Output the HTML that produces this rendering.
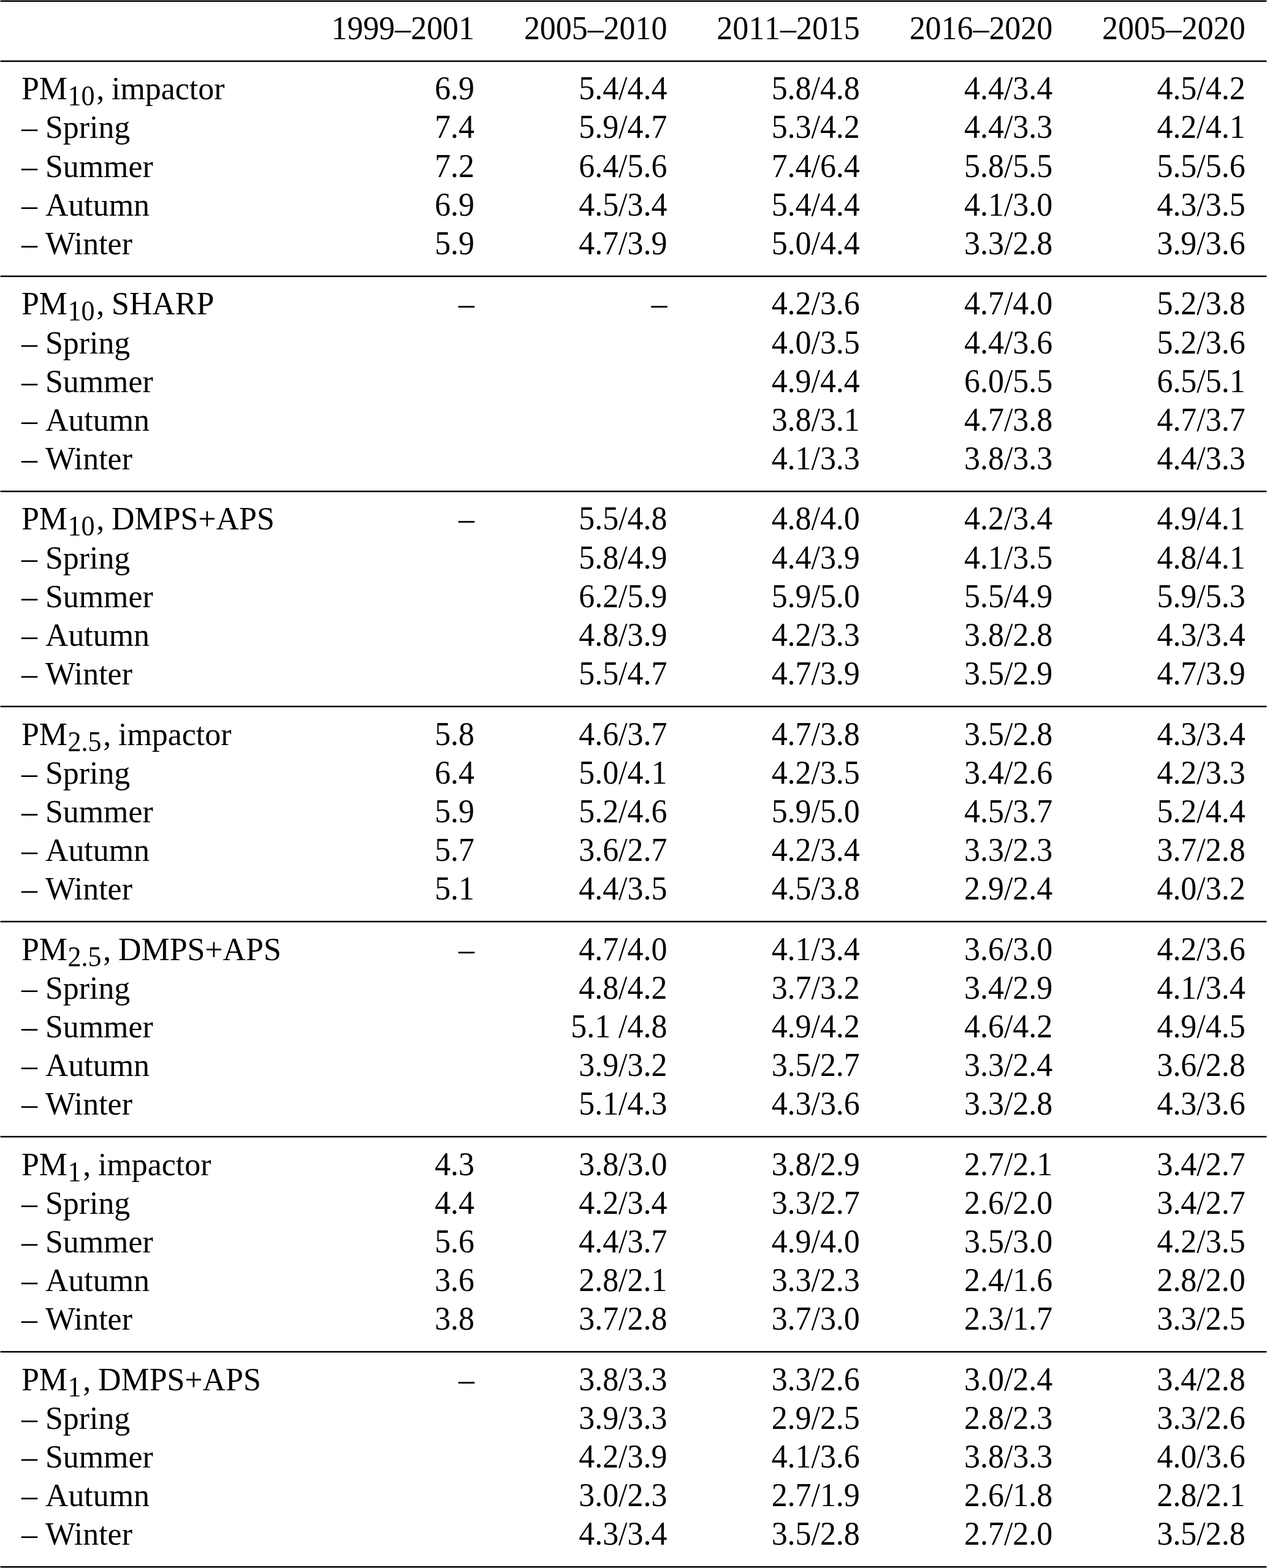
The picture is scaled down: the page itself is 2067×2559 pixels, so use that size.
<!DOCTYPE html>
<html lang="en"><head><meta charset="utf-8"><title>PM table</title>
<style>
html,body{margin:0;padding:0;background:#fff;}
body{width:2067px;height:2559px;position:relative;overflow:hidden;
 font-family:"Liberation Serif","Times New Roman",Times,serif;font-size:51.9px;line-height:60.0px;color:#000;
 font-kerning:none;}
.r{position:absolute;height:2.5px;left:0.6px;width:2065.7px;background:#000;}
.t{position:absolute;white-space:pre;height:60.0px;transform:scaleY(1.05);transform-origin:0 47.00px;}
.l{left:35.0px;transform:scaleY(1.01);font-kerning:normal;word-spacing:-1.2px;}
.n{text-align:right;width:400px;}
.k{font-kerning:none;word-spacing:0;}
.s{font-size:44.0px;position:relative;top:10.4px;line-height:1;display:inline-block;margin:0 2.9px 0 0.4px;transform:scaleY(1.035);transform-origin:0 83.75%;}
</style></head><body>

<div class="t n" style="left:374.00px;top:17px">1999–2001</div>
<div class="t n" style="left:688.40px;top:17px">2005–2010</div>
<div class="t n" style="left:1002.80px;top:17px">2011–2015</div>
<div class="t n" style="left:1317.20px;top:17px">2016–2020</div>
<div class="t n" style="left:1631.60px;top:17px">2005–2020</div>
<div class="t l" style="top:115px">PM<span class="s">10</span>, impactor</div>
<div class="t n" style="left:374.00px;top:115px">6.9</div>
<div class="t n" style="left:688.40px;top:115px">5.4/4.4</div>
<div class="t n" style="left:1002.80px;top:115px">5.8/4.8</div>
<div class="t n" style="left:1317.20px;top:115px">4.4/3.4</div>
<div class="t n" style="left:1631.60px;top:115px">4.5/4.2</div>
<div class="t l" style="top:178px"><span class="k">– </span>Spring</div>
<div class="t n" style="left:374.00px;top:178px">7.4</div>
<div class="t n" style="left:688.40px;top:178px">5.9/4.7</div>
<div class="t n" style="left:1002.80px;top:178px">5.3/4.2</div>
<div class="t n" style="left:1317.20px;top:178px">4.4/3.3</div>
<div class="t n" style="left:1631.60px;top:178px">4.2/4.1</div>
<div class="t l" style="top:242px"><span class="k">– </span>Summer</div>
<div class="t n" style="left:374.00px;top:242px">7.2</div>
<div class="t n" style="left:688.40px;top:242px">6.4/5.6</div>
<div class="t n" style="left:1002.80px;top:242px">7.4/6.4</div>
<div class="t n" style="left:1317.20px;top:242px">5.8/5.5</div>
<div class="t n" style="left:1631.60px;top:242px">5.5/5.6</div>
<div class="t l" style="top:305px"><span class="k">– </span>Autumn</div>
<div class="t n" style="left:374.00px;top:305px">6.9</div>
<div class="t n" style="left:688.40px;top:305px">4.5/3.4</div>
<div class="t n" style="left:1002.80px;top:305px">5.4/4.4</div>
<div class="t n" style="left:1317.20px;top:305px">4.1/3.0</div>
<div class="t n" style="left:1631.60px;top:305px">4.3/3.5</div>
<div class="t l" style="top:368px"><span class="k">– </span>Winter</div>
<div class="t n" style="left:374.00px;top:368px">5.9</div>
<div class="t n" style="left:688.40px;top:368px">4.7/3.9</div>
<div class="t n" style="left:1002.80px;top:368px">5.0/4.4</div>
<div class="t n" style="left:1317.20px;top:368px">3.3/2.8</div>
<div class="t n" style="left:1631.60px;top:368px">3.9/3.6</div>
<div class="t l" style="top:466px">PM<span class="s">10</span>, SHARP</div>
<div class="t n" style="left:374.00px;top:466px">–</div>
<div class="t n" style="left:688.40px;top:466px">–</div>
<div class="t n" style="left:1002.80px;top:466px">4.2/3.6</div>
<div class="t n" style="left:1317.20px;top:466px">4.7/4.0</div>
<div class="t n" style="left:1631.60px;top:466px">5.2/3.8</div>
<div class="t l" style="top:530px"><span class="k">– </span>Spring</div>
<div class="t n" style="left:1002.80px;top:530px">4.0/3.5</div>
<div class="t n" style="left:1317.20px;top:530px">4.4/3.6</div>
<div class="t n" style="left:1631.60px;top:530px">5.2/3.6</div>
<div class="t l" style="top:593px"><span class="k">– </span>Summer</div>
<div class="t n" style="left:1002.80px;top:593px">4.9/4.4</div>
<div class="t n" style="left:1317.20px;top:593px">6.0/5.5</div>
<div class="t n" style="left:1631.60px;top:593px">6.5/5.1</div>
<div class="t l" style="top:656px"><span class="k">– </span>Autumn</div>
<div class="t n" style="left:1002.80px;top:656px">3.8/3.1</div>
<div class="t n" style="left:1317.20px;top:656px">4.7/3.8</div>
<div class="t n" style="left:1631.60px;top:656px">4.7/3.7</div>
<div class="t l" style="top:719px"><span class="k">– </span>Winter</div>
<div class="t n" style="left:1002.80px;top:719px">4.1/3.3</div>
<div class="t n" style="left:1317.20px;top:719px">3.8/3.3</div>
<div class="t n" style="left:1631.60px;top:719px">4.4/3.3</div>
<div class="t l" style="top:817px">PM<span class="s">10</span>, DMPS+APS</div>
<div class="t n" style="left:374.00px;top:817px">–</div>
<div class="t n" style="left:688.40px;top:817px">5.5/4.8</div>
<div class="t n" style="left:1002.80px;top:817px">4.8/4.0</div>
<div class="t n" style="left:1317.20px;top:817px">4.2/3.4</div>
<div class="t n" style="left:1631.60px;top:817px">4.9/4.1</div>
<div class="t l" style="top:881px"><span class="k">– </span>Spring</div>
<div class="t n" style="left:688.40px;top:881px">5.8/4.9</div>
<div class="t n" style="left:1002.80px;top:881px">4.4/3.9</div>
<div class="t n" style="left:1317.20px;top:881px">4.1/3.5</div>
<div class="t n" style="left:1631.60px;top:881px">4.8/4.1</div>
<div class="t l" style="top:944px"><span class="k">– </span>Summer</div>
<div class="t n" style="left:688.40px;top:944px">6.2/5.9</div>
<div class="t n" style="left:1002.80px;top:944px">5.9/5.0</div>
<div class="t n" style="left:1317.20px;top:944px">5.5/4.9</div>
<div class="t n" style="left:1631.60px;top:944px">5.9/5.3</div>
<div class="t l" style="top:1007px"><span class="k">– </span>Autumn</div>
<div class="t n" style="left:688.40px;top:1007px">4.8/3.9</div>
<div class="t n" style="left:1002.80px;top:1007px">4.2/3.3</div>
<div class="t n" style="left:1317.20px;top:1007px">3.8/2.8</div>
<div class="t n" style="left:1631.60px;top:1007px">4.3/3.4</div>
<div class="t l" style="top:1070px"><span class="k">– </span>Winter</div>
<div class="t n" style="left:688.40px;top:1070px">5.5/4.7</div>
<div class="t n" style="left:1002.80px;top:1070px">4.7/3.9</div>
<div class="t n" style="left:1317.20px;top:1070px">3.5/2.9</div>
<div class="t n" style="left:1631.60px;top:1070px">4.7/3.9</div>
<div class="t l" style="top:1169px">PM<span class="s">2.5</span>, impactor</div>
<div class="t n" style="left:374.00px;top:1169px">5.8</div>
<div class="t n" style="left:688.40px;top:1169px">4.6/3.7</div>
<div class="t n" style="left:1002.80px;top:1169px">4.7/3.8</div>
<div class="t n" style="left:1317.20px;top:1169px">3.5/2.8</div>
<div class="t n" style="left:1631.60px;top:1169px">4.3/3.4</div>
<div class="t l" style="top:1232px"><span class="k">– </span>Spring</div>
<div class="t n" style="left:374.00px;top:1232px">6.4</div>
<div class="t n" style="left:688.40px;top:1232px">5.0/4.1</div>
<div class="t n" style="left:1002.80px;top:1232px">4.2/3.5</div>
<div class="t n" style="left:1317.20px;top:1232px">3.4/2.6</div>
<div class="t n" style="left:1631.60px;top:1232px">4.2/3.3</div>
<div class="t l" style="top:1295px"><span class="k">– </span>Summer</div>
<div class="t n" style="left:374.00px;top:1295px">5.9</div>
<div class="t n" style="left:688.40px;top:1295px">5.2/4.6</div>
<div class="t n" style="left:1002.80px;top:1295px">5.9/5.0</div>
<div class="t n" style="left:1317.20px;top:1295px">4.5/3.7</div>
<div class="t n" style="left:1631.60px;top:1295px">5.2/4.4</div>
<div class="t l" style="top:1358px"><span class="k">– </span>Autumn</div>
<div class="t n" style="left:374.00px;top:1358px">5.7</div>
<div class="t n" style="left:688.40px;top:1358px">3.6/2.7</div>
<div class="t n" style="left:1002.80px;top:1358px">4.2/3.4</div>
<div class="t n" style="left:1317.20px;top:1358px">3.3/2.3</div>
<div class="t n" style="left:1631.60px;top:1358px">3.7/2.8</div>
<div class="t l" style="top:1421px"><span class="k">– </span>Winter</div>
<div class="t n" style="left:374.00px;top:1421px">5.1</div>
<div class="t n" style="left:688.40px;top:1421px">4.4/3.5</div>
<div class="t n" style="left:1002.80px;top:1421px">4.5/3.8</div>
<div class="t n" style="left:1317.20px;top:1421px">2.9/2.4</div>
<div class="t n" style="left:1631.60px;top:1421px">4.0/3.2</div>
<div class="t l" style="top:1520px">PM<span class="s">2.5</span>, DMPS+APS</div>
<div class="t n" style="left:374.00px;top:1520px">–</div>
<div class="t n" style="left:688.40px;top:1520px">4.7/4.0</div>
<div class="t n" style="left:1002.80px;top:1520px">4.1/3.4</div>
<div class="t n" style="left:1317.20px;top:1520px">3.6/3.0</div>
<div class="t n" style="left:1631.60px;top:1520px">4.2/3.6</div>
<div class="t l" style="top:1583px"><span class="k">– </span>Spring</div>
<div class="t n" style="left:688.40px;top:1583px">4.8/4.2</div>
<div class="t n" style="left:1002.80px;top:1583px">3.7/3.2</div>
<div class="t n" style="left:1317.20px;top:1583px">3.4/2.9</div>
<div class="t n" style="left:1631.60px;top:1583px">4.1/3.4</div>
<div class="t l" style="top:1646px"><span class="k">– </span>Summer</div>
<div class="t n" style="left:688.40px;top:1646px">5.1 /4.8</div>
<div class="t n" style="left:1002.80px;top:1646px">4.9/4.2</div>
<div class="t n" style="left:1317.20px;top:1646px">4.6/4.2</div>
<div class="t n" style="left:1631.60px;top:1646px">4.9/4.5</div>
<div class="t l" style="top:1709px"><span class="k">– </span>Autumn</div>
<div class="t n" style="left:688.40px;top:1709px">3.9/3.2</div>
<div class="t n" style="left:1002.80px;top:1709px">3.5/2.7</div>
<div class="t n" style="left:1317.20px;top:1709px">3.3/2.4</div>
<div class="t n" style="left:1631.60px;top:1709px">3.6/2.8</div>
<div class="t l" style="top:1772px"><span class="k">– </span>Winter</div>
<div class="t n" style="left:688.40px;top:1772px">5.1/4.3</div>
<div class="t n" style="left:1002.80px;top:1772px">4.3/3.6</div>
<div class="t n" style="left:1317.20px;top:1772px">3.3/2.8</div>
<div class="t n" style="left:1631.60px;top:1772px">4.3/3.6</div>
<div class="t l" style="top:1871px">PM<span class="s">1</span>, impactor</div>
<div class="t n" style="left:374.00px;top:1871px">4.3</div>
<div class="t n" style="left:688.40px;top:1871px">3.8/3.0</div>
<div class="t n" style="left:1002.80px;top:1871px">3.8/2.9</div>
<div class="t n" style="left:1317.20px;top:1871px">2.7/2.1</div>
<div class="t n" style="left:1631.60px;top:1871px">3.4/2.7</div>
<div class="t l" style="top:1934px"><span class="k">– </span>Spring</div>
<div class="t n" style="left:374.00px;top:1934px">4.4</div>
<div class="t n" style="left:688.40px;top:1934px">4.2/3.4</div>
<div class="t n" style="left:1002.80px;top:1934px">3.3/2.7</div>
<div class="t n" style="left:1317.20px;top:1934px">2.6/2.0</div>
<div class="t n" style="left:1631.60px;top:1934px">3.4/2.7</div>
<div class="t l" style="top:1997px"><span class="k">– </span>Summer</div>
<div class="t n" style="left:374.00px;top:1997px">5.6</div>
<div class="t n" style="left:688.40px;top:1997px">4.4/3.7</div>
<div class="t n" style="left:1002.80px;top:1997px">4.9/4.0</div>
<div class="t n" style="left:1317.20px;top:1997px">3.5/3.0</div>
<div class="t n" style="left:1631.60px;top:1997px">4.2/3.5</div>
<div class="t l" style="top:2060px"><span class="k">– </span>Autumn</div>
<div class="t n" style="left:374.00px;top:2060px">3.6</div>
<div class="t n" style="left:688.40px;top:2060px">2.8/2.1</div>
<div class="t n" style="left:1002.80px;top:2060px">3.3/2.3</div>
<div class="t n" style="left:1317.20px;top:2060px">2.4/1.6</div>
<div class="t n" style="left:1631.60px;top:2060px">2.8/2.0</div>
<div class="t l" style="top:2123px"><span class="k">– </span>Winter</div>
<div class="t n" style="left:374.00px;top:2123px">3.8</div>
<div class="t n" style="left:688.40px;top:2123px">3.7/2.8</div>
<div class="t n" style="left:1002.80px;top:2123px">3.7/3.0</div>
<div class="t n" style="left:1317.20px;top:2123px">2.3/1.7</div>
<div class="t n" style="left:1631.60px;top:2123px">3.3/2.5</div>
<div class="t l" style="top:2222px">PM<span class="s">1</span>, DMPS+APS</div>
<div class="t n" style="left:374.00px;top:2222px">–</div>
<div class="t n" style="left:688.40px;top:2222px">3.8/3.3</div>
<div class="t n" style="left:1002.80px;top:2222px">3.3/2.6</div>
<div class="t n" style="left:1317.20px;top:2222px">3.0/2.4</div>
<div class="t n" style="left:1631.60px;top:2222px">3.4/2.8</div>
<div class="t l" style="top:2285px"><span class="k">– </span>Spring</div>
<div class="t n" style="left:688.40px;top:2285px">3.9/3.3</div>
<div class="t n" style="left:1002.80px;top:2285px">2.9/2.5</div>
<div class="t n" style="left:1317.20px;top:2285px">2.8/2.3</div>
<div class="t n" style="left:1631.60px;top:2285px">3.3/2.6</div>
<div class="t l" style="top:2348px"><span class="k">– </span>Summer</div>
<div class="t n" style="left:688.40px;top:2348px">4.2/3.9</div>
<div class="t n" style="left:1002.80px;top:2348px">4.1/3.6</div>
<div class="t n" style="left:1317.20px;top:2348px">3.8/3.3</div>
<div class="t n" style="left:1631.60px;top:2348px">4.0/3.6</div>
<div class="t l" style="top:2411px"><span class="k">– </span>Autumn</div>
<div class="t n" style="left:688.40px;top:2411px">3.0/2.3</div>
<div class="t n" style="left:1002.80px;top:2411px">2.7/1.9</div>
<div class="t n" style="left:1317.20px;top:2411px">2.6/1.8</div>
<div class="t n" style="left:1631.60px;top:2411px">2.8/2.1</div>
<div class="t l" style="top:2474px"><span class="k">– </span>Winter</div>
<div class="t n" style="left:688.40px;top:2474px">4.3/3.4</div>
<div class="t n" style="left:1002.80px;top:2474px">3.5/2.8</div>
<div class="t n" style="left:1317.20px;top:2474px">2.7/2.0</div>
<div class="t n" style="left:1631.60px;top:2474px">3.5/2.8</div>
<svg width="2067" height="2559" viewBox="0 0 2067 2559" style="position:absolute;left:0;top:0"><rect x="0.6" y="0.50" width="2065.7" height="2.5" fill="#000"/><rect x="0.6" y="98.60" width="2065.7" height="2.5" fill="#000"/><rect x="0.6" y="449.65" width="2065.7" height="2.5" fill="#000"/><rect x="0.6" y="800.70" width="2065.7" height="2.5" fill="#000"/><rect x="0.6" y="1151.75" width="2065.7" height="2.5" fill="#000"/><rect x="0.6" y="1502.80" width="2065.7" height="2.5" fill="#000"/><rect x="0.6" y="1853.85" width="2065.7" height="2.5" fill="#000"/><rect x="0.6" y="2204.90" width="2065.7" height="2.5" fill="#000"/><rect x="0.6" y="2555.95" width="2065.7" height="2.5" fill="#000"/></svg>
</body></html>
